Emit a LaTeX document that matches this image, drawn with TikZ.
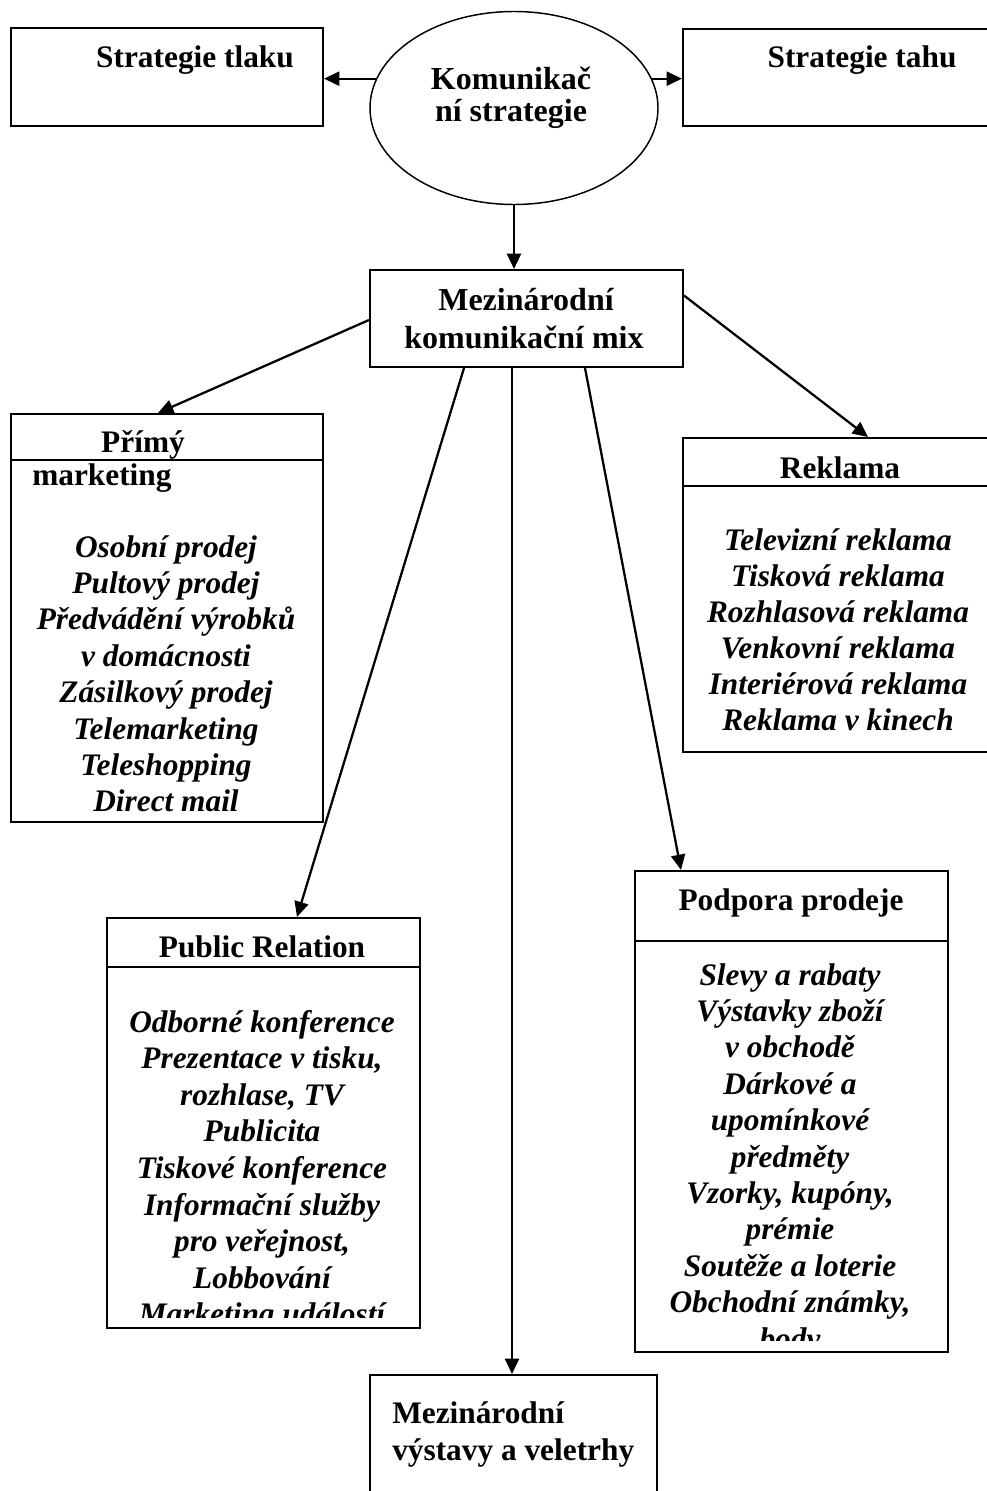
\documentclass[tikz,border=0pt]{standalone}
\usepackage{fontspec}
\setmainfont{Liberation Serif}
\usetikzlibrary{arrows.meta,shapes.geometric,fit,calc}
\begin{document}
\begin{tikzpicture}[x=0.75pt,y=-0.75pt,
  box/.style={draw, line width=1.5pt, inner sep=0pt},
  sep/.style={line width=1.3pt},
  hd/.style={font=\fontsize{23.5}{28}\selectfont\bfseries, inner sep=0pt, anchor=base},
  hdl/.style={font=\fontsize{24}{28}\selectfont\bfseries, inner sep=0pt, anchor=base},
  it/.style={font=\fontsize{23.5}{28}\selectfont\bfseries\itshape, inner sep=0pt, anchor=base},
  arr/.style={line width=1.7pt, -{Triangle[length=11.5pt,width=10.5pt]}}]
\clip (0,0) rectangle (987,1491);
\fill[white] (0,0) rectangle (987,1491);

% top row
\node[box, fit={(11,28) (323,126)}] (tlaku) {};
\node[hd] (tlakut) at (195,68) {Strategie tlaku};
\node[box, fit={(683,29) (1000,126)}] (tahu) {};
\node[hd] (tahut) at (862,68) {Strategie tahu};
\node[draw, ellipse, line width=1.1pt, inner sep=0pt, minimum width=216pt, minimum height=144.75pt] (ell) at (514,108) {};
\node[hdl] (ellt1) at (511,90) {Komunikač};
\node[hdl] (ellt2) at (511,122) {ní strategie};

\draw[arr] (ell.168) -- (ell.168 -| tlaku.east);
\draw[arr] (ell.12) -- (ell.12 -| tahu.west);

% mix
\node[box, fit={(370,270) (683,367)}] (mix) {};
\node[hdl] (mixt1) at (526,310) {Mezinárodní};
\node[hdl] (mixt2) at (524,348) {komunikační mix};
\draw[arr] (ell.south) -- (ell.south |- mix.north);

% Primy marketing
\node[box, fit={(11,414) (323,822)}] (primy) {};
\draw[sep] ($(primy.north west)+(0,47)$) -- ($(primy.north east)+(0,47)$);
\node[hd] (primyt1) at (143,452) {Přímý};
\node[hd, anchor=base west] (primyt2) at (32,485) {marketing};
\begin{scope}
\clip (12,470) rectangle (322,812);
\foreach \t [count=\i from 0] in {Osobní prodej, Pultový prodej, Předvádění výrobků, v domácnosti, Zásilkový prodej, Telemarketing, Teleshopping, Direct mail}
  \node[it] (pm\i) at (166,{557+36.4*\i}) {\t};
\end{scope}

% Reklama
\node[box, fit={(683,438) (1000,752)}] (rek) {};
\draw[sep] ($(rek.north west)+(0,49)$) -- ($(rek.north east)+(0,49)$);
\node[hd] (rekt) at (840,478) {Reklama};
\foreach \t [count=\i from 0] in {Televizní reklama, Tisková reklama, Rozhlasová reklama, Venkovní reklama, Interiérová reklama, Reklama v kinech}
  \node[it] (rk\i) at (838,{550+36*\i}) {\t};

% Public Relation
\node[box, fit={(107,918) (420,1328)}] (pr) {};
\draw[sep] ($(pr.north west)+(0,50)$) -- ($(pr.north east)+(0,50)$);
\node[hd] (prt) at (262,957) {Public Relation};
\begin{scope}
\clip (108,970) rectangle (419,1317);
\foreach \t [count=\i from 0] in {Odborné konference, {Prezentace v tisku,}, {rozhlase, TV}, Publicita, Tiskové konference, Informační služby, {pro veřejnost,}, Lobbování, Marketing událostí}
  \node[it] (pri\i) at (262,{1032+36.6*\i}) {\t};
\end{scope}

% Podpora prodeje
\node[box, fit={(635,871) (948,1352)}] (pod) {};
\draw[sep] ($(pod.north west)+(0,71)$) -- ($(pod.north east)+(0,71)$);
\node[hd] (podt) at (791,910) {Podpora prodeje};
\begin{scope}
\clip (636,943) rectangle (947,1340);
\foreach \t [count=\i from 0] in {Slevy a rabaty, Výstavky zboží, v obchodě, Dárkové a, upomínkové, předměty, {Vzorky, kupóny,}, prémie, Soutěže a loterie, {Obchodní známky,}, body}
  \node[it] (pd\i) at (790,{985+36.4*\i}) {\t};
\end{scope}

% bottom box
\node[box, fit={(370,1375) (657,1520)}] (bot) {};
\node[hd, anchor=base west] (bott1) at (392,1423) {Mezinárodní};
\node[hd, anchor=base west] (bott2) at (392,1460) {výstavy a veletrhy};

% connectors from mix
\draw[arr] ($(mix.north west)!0.515!(mix.south west)$) -- ($(primy.north west)+(148,0)$);
\draw[arr] ($(mix.north east)!0.268!(mix.south east)$) -- ($(rek.north west)+(186,0)$);
\draw[arr] ($(mix.south west)+(95,0)$) -- ($(pr.north west)+(191,0)$);
\draw[arr] ($(mix.south west)+(143,0)$) -- ($(bot.north west)+(143,0)$);
\draw[arr] ($(mix.south west)+(216,0)$) -- ($(pod.north west)+(47,0)$);
\end{tikzpicture}
\end{document}
